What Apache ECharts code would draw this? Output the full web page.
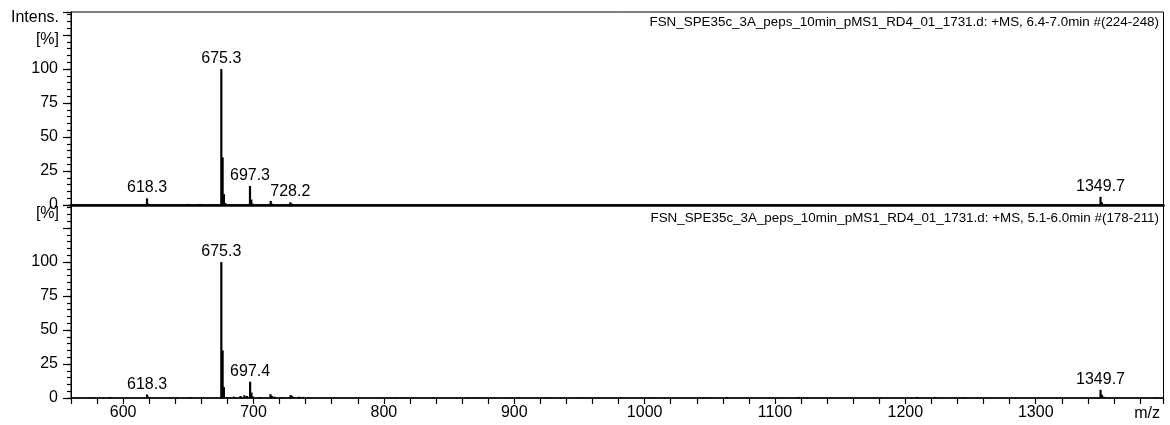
<!DOCTYPE html>
<html><head><meta charset="utf-8">
<script src="https://cdn.jsdelivr.net/npm/echarts@6/dist/echarts.min.js"></script>
<style>html,body{margin:0;padding:0;background:#fff}#c{width:1170px;height:425px}</style>
</head><body><div id="c"></div>
<script>
const topTitle = 'FSN_SPE35c_3A_peps_10min_pMS1_RD4_01_1731.d: +MS, 6.4-7.0min #(224-248)';
const bottomTitle = 'FSN_SPE35c_3A_peps_10min_pMS1_RD4_01_1731.d: +MS, 5.1-6.0min #(178-211)';
const yAxisTitle = 'Intens.';
const yUnit = '[%]';
const xAxisTitle = 'm/z';

// [m/z, relative intensity %]
const topPeaks = [
  [590.0, 0.5], [618.3, 4.9], [619.3, 1.0], [640.0, 0.5], [649.5, 0.8], [659.0, 0.8],
  [675.3, 100], [676.3, 35], [677.3, 8], [678.3, 1.5], [684.0, 0.7], [691.0, 0.5],
  [697.3, 14], [698.3, 4], [699.3, 1.0], [713.2, 3.0], [714.2, 1.0],
  [728.2, 2.0], [729.2, 1.0], [740.0, 0.5], [1349.7, 6.0], [1350.7, 2.0]
];
const bottomPeaks = [
  [575.0, 0.5], [590.0, 0.8], [618.3, 2.6], [619.3, 1.0], [641.0, 0.5], [652.0, 0.5], [660.0, 0.5],
  [675.3, 100], [676.3, 35], [677.3, 8], [680.0, 0.7], [685.0, 1.0], [690.0, 1.5], [693.0, 2.0], [695.0, 1.5],
  [697.4, 12], [698.4, 4], [699.4, 1.2], [705.0, 0.7], [713.0, 2.8], [714.0, 1.5], [716.0, 1.0],
  [722.0, 0.6], [728.5, 2.2], [729.5, 1.5], [731.0, 0.8], [735.0, 1.0], [738.0, 0.8], [742.0, 0.6],
  [760.0, 0.3], [781.0, 0.4], [810.0, 0.5], [814.0, 0.4], [838.0, 0.5], [864.0, 0.5], [870.0, 0.4],
  [898.0, 0.4], [904.0, 0.5], [925.0, 0.3], [948.0, 0.4], [981.0, 0.4], [1005.0, 0.3],
  [1045.0, 0.5], [1050.0, 0.5], [1063.0, 0.8], [1118.0, 0.8], [1125.0, 0.4], [1180.0, 0.3],
  [1209.0, 0.8], [1223.0, 0.8], [1245.0, 0.5], [1349.7, 6.0], [1350.7, 2.5], [1352.0, 1.0], [1392.0, 0.5]
];
// labelled peaks [m/z, intensity]
const topLabels = [[618.3, 4.9], [675.3, 100], [697.3, 14], [728.2, 2.0], [1349.7, 6.0]];
const bottomLabels = [[618.3, 2.6], [675.3, 100], [697.4, 12], [1349.7, 6.0]];

const X_MIN = 560, X_MAX = 1398, Y_MAX = 142;
const FONT = 'Liberation Sans, Arial, sans-serif';

const chart = echarts.init(document.getElementById('c'), null, {renderer: 'canvas'});

function yMajor(gi) {
  return {
    gridIndex: gi, type: 'value', position: 'left', min: 0, max: Y_MAX, interval: 25,
    axisLine: {show: true, lineStyle: {color: '#000', width: 1}},
    axisTick: {show: true, length: 8, lineStyle: {color: '#000', width: 1.2}},
    axisLabel: {show: true, color: '#000', fontSize: 16, fontFamily: FONT, margin: 13,
      formatter: v => (v <= 100 ? String(v) : '')},
    splitLine: {show: false}
  };
}
function yMinor(gi) {
  return {
    gridIndex: gi, type: 'value', position: 'left', offset: 0, min: 0, max: Y_MAX, interval: 5,
    axisLine: {show: false},
    axisTick: {show: true, length: 4, lineStyle: {color: '#000', width: 1.2}},
    axisLabel: {show: false}, splitLine: {show: false}
  };
}
function barSeries(xi, yi, data) {
  return {
    type: 'bar', xAxisIndex: xi, yAxisIndex: yi, data: data, barWidth: 2.2,
    itemStyle: {color: '#000'}, silent: true, barGap: '-100%'
  };
}
function labelSeries(xi, yi, data) {
  return {
    type: 'scatter', xAxisIndex: xi, yAxisIndex: yi, data: data, symbol: 'circle', symbolSize: 0.5,
    itemStyle: {color: 'transparent', opacity: 1}, silent: true, z: 5,
    label: {show: true, position: 'top', distance: 2, color: '#000', opacity: 1, fontSize: 16, fontFamily: FONT,
      formatter: p => p.value[0].toFixed(1)},
    labelLayout: {hideOverlap: false}
  };
}

const option = {
  animation: false,
  backgroundColor: '#fff',
  grid: [
    {left: 71, right: 6.5, top: 12, height: 193, show: true, borderColor: '#000', borderWidth: 1},
    {left: 71, right: 6.5, top: 205, height: 193, show: true, borderColor: '#000', borderWidth: 1}
  ],
  xAxis: [
    {gridIndex: 0, type: 'value', min: X_MIN, max: X_MAX, interval: 20,
      axisLine: {show: true, lineStyle: {color: '#000', width: 2.5}},
      axisTick: {show: false}, axisLabel: {show: false}, splitLine: {show: false}},
    {gridIndex: 1, type: 'value', min: X_MIN, max: X_MAX, interval: 20,
      axisLine: {show: true, lineStyle: {color: '#000', width: 1.5}},
      axisTick: {show: true, length: 6, lineStyle: {color: '#000', width: 1.2}},
      axisLabel: {show: true, color: '#000', fontSize: 16, fontFamily: FONT, margin: 7,
        formatter: v => (v % 100 === 0 ? String(v) : '')},
      splitLine: {show: false}}
  ],
  yAxis: [yMajor(0), yMinor(0), yMajor(1), yMinor(1)],
  series: [
    barSeries(0, 0, topPeaks),
    labelSeries(0, 0, topLabels),
    barSeries(1, 2, bottomPeaks),
    labelSeries(1, 2, bottomLabels)
  ],
  graphic: [
    {type: 'text', x: 59, y: 18, style: {text: yAxisTitle, textAlign: 'right', textVerticalAlign: 'middle', fill: '#000', font: '16px ' + FONT}},
    {type: 'text', x: 59, y: 40, style: {text: yUnit, textAlign: 'right', textVerticalAlign: 'middle', fill: '#000', font: '16px ' + FONT}},
    {type: 'text', x: 59, y: 214, style: {text: yUnit, textAlign: 'right', textVerticalAlign: 'middle', fill: '#000', font: '16px ' + FONT}},
    {type: 'text', x: 1159, y: 22, style: {text: topTitle, textAlign: 'right', textVerticalAlign: 'middle', fill: '#000', font: '13.4px ' + FONT}},
    {type: 'text', x: 1159, y: 218, style: {text: bottomTitle, textAlign: 'right', textVerticalAlign: 'middle', fill: '#000', font: '13.4px ' + FONT}},
    {type: 'text', x: 1160, y: 414, style: {text: xAxisTitle, textAlign: 'right', textVerticalAlign: 'middle', fill: '#000', font: '16px ' + FONT}}
  ]
};
chart.setOption(option);
</script>
</body></html>
